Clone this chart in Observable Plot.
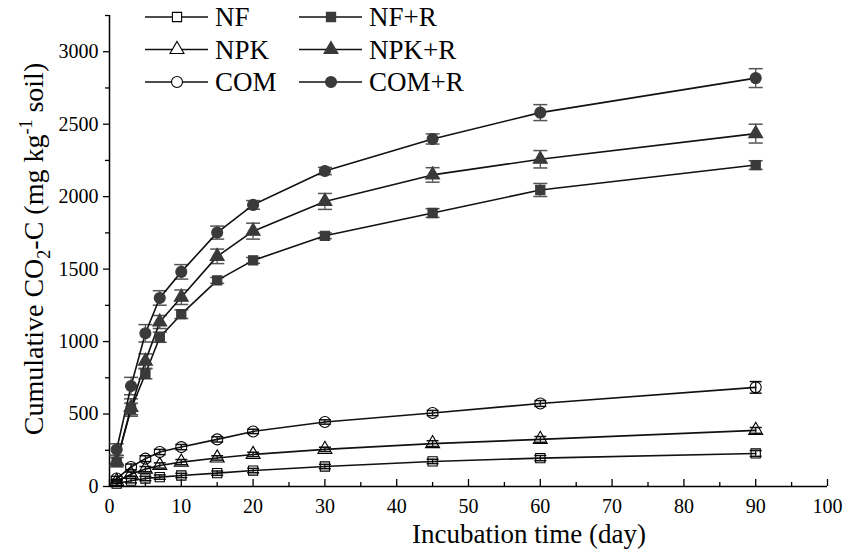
<!DOCTYPE html>
<html>
<head>
<meta charset="utf-8">
<script src="https://cdn.jsdelivr.net/npm/d3@7"></script>
<script src="https://cdn.jsdelivr.net/npm/@observablehq/plot@0.6"></script>
<style>
  body { margin: 0; background: #fff; }
  #chart svg { display: block; }
  #chart svg text { font-family: 'Liberation Serif', 'Times New Roman', serif; }
</style>
</head>
<body>
<div id="chart"></div>
<script>
// ---- data ----
const days = [1, 3, 5, 7, 10, 15, 20, 30, 45, 60, 90];

const nf      = [20, 40, 55, 65, 76, 92, 110, 138, 173, 196, 228];
const nfSd    = [12, 15, 15, 15, 15, 15, 15, 15, 15, 18, 20];
const npk     = [35, 85, 120, 145, 168, 197, 221, 256, 296, 325, 387];
const npkSd   = [12, 15, 18, 18, 18, 15, 15, 15, 20, 20, 20];
const com     = [55, 135, 192, 238, 272, 325, 380, 445, 507, 573, 684];
const comSd   = [15, 20, 20, 18, 18, 18, 15, 15, 18, 20, 40];
const nfR     = [170, 535, 778, 1030, 1189, 1422, 1560, 1730, 1887, 2046, 2218];
const nfRSd   = [30, 40, 35, 35, 30, 20, 20, 20, 30, 45, 30];
const npkR    = [175, 545, 865, 1135, 1306, 1588, 1762, 1967, 2150, 2258, 2435];
const npkRSd  = [40, 60, 50, 45, 50, 50, 55, 55, 50, 60, 65];
const comR    = [255, 693, 1057, 1301, 1481, 1752, 1943, 2177, 2398, 2580, 2818];
const comRSd  = [40, 60, 60, 50, 50, 45, 30, 25, 35, 55, 65];

const seriesNames = ["NF", "NPK", "COM", "NF+R", "NPK+R", "COM+R"];
const seriesValues = [nf, npk, com, nfR, npkR, comR];
const seriesSd = [nfSd, npkSd, comSd, nfRSd, npkRSd, comRSd];
const seriesSymbols = ["square", "triangle", "circle", "square", "triangle", "circle"];
const seriesFilled = [false, false, false, true, true, true];

const xTicks = [0, 10, 20, 30, 40, 50, 60, 70, 80, 90, 100];
const xMinor = [5, 15, 25, 35, 45, 55, 65, 75, 85, 95];
const yTicks = [0, 500, 1000, 1500, 2000, 2500, 3000];
const yMinor = [250, 750, 1250, 1750, 2250, 2750, 3250];

// ---- build ----
const FONT = "'Liberation Serif', 'Times New Roman', serif";
const FILL_DARK = "#3a3a3a";

const series = seriesNames.map((name, k) => ({
  name,
  symbol: seriesSymbols[k],
  filled: seriesFilled[k],
  rows: days.map((d, i) => ({day: d, value: seriesValues[k][i], sd: seriesSd[k][i]}))
}));

const hline = {
  draw(ctx, size) {
    const r = Math.sqrt(size / Math.PI);
    ctx.moveTo(-r, 0);
    ctx.lineTo(r, 0);
  }
};

const marks = [];
// axes
marks.push(Plot.axisX(xTicks, {tickSize: -7, tickFormat: () => "", label: null, strokeWidth: 1.3}));
marks.push(Plot.axisX(xMinor, {tickSize: -4, tickFormat: () => "", label: null, strokeWidth: 1.3}));
marks.push(Plot.axisX(xTicks, {tickSize: 0, tickPadding: 12, label: null, fontSize: 20, fontFamily: FONT, tickFormat: d => String(d)}));
marks.push(Plot.axisY(yTicks, {tickSize: 6, tickPadding: 5, label: null, fontSize: 20, fontFamily: FONT, strokeWidth: 1.3, tickFormat: d => String(d)}));
marks.push(Plot.axisY(yMinor, {tickSize: 4, tickFormat: () => "", label: null, strokeWidth: 1.3}));
marks.push(Plot.ruleX([0], {stroke: "#000", strokeWidth: 1.5}));
marks.push(Plot.ruleY([0], {stroke: "#000", strokeWidth: 1.5}));

for (const s of series) {
  const ebColor = s.filled ? "#555" : "#111";
  const cap = s.filled ? 7 : 6;
  marks.push(Plot.ruleX(s.rows, {x: "day", y1: d => d.value - d.sd, y2: d => d.value + d.sd, stroke: ebColor, strokeWidth: 1.3}));
  marks.push(Plot.dot(s.rows, {x: "day", y: d => d.value + d.sd, symbol: hline, r: cap, fill: "none", stroke: ebColor, strokeWidth: 1.5}));
  marks.push(Plot.dot(s.rows, {x: "day", y: d => d.value - d.sd, symbol: hline, r: cap, fill: "none", stroke: ebColor, strokeWidth: 1.5}));
}
for (const s of series) {
  marks.push(Plot.line(s.rows, {x: "day", y: "value", stroke: "#111", strokeWidth: 1.6}));
}
for (const s of series) {
  marks.push(Plot.dot(s.rows, {
    x: "day", y: "value", symbol: s.symbol, r: s.symbol === "circle" ? 5.5 : 5.2,
    fill: s.filled ? FILL_DARK : "none",
    stroke: s.filled ? FILL_DARK : "#000",
    strokeWidth: 1.1
  }));
}

const chart = Plot.plot({
  width: 858,
  height: 549,
  marginLeft: 109,
  marginRight: 31,
  marginTop: 15,
  marginBottom: 63,
  style: {fontFamily: FONT, fontSize: "20px", color: "#000", background: "#fff"},
  x: {domain: [0, 100], label: null},
  y: {domain: [0, 3250], label: null},
  marks
});
document.getElementById("chart").appendChild(chart);

// ---- titles and legend ----
const svg = d3.select(chart);
svg.attr("font-family", FONT);

svg.append("text")
  .attr("x", 529).attr("y", 543)
  .attr("text-anchor", "middle")
  .attr("font-family", FONT).attr("font-size", 27).attr("fill", "#000")
  .text("Incubation time (day)");

const yl = svg.append("text")
  .attr("transform", "translate(43,249) rotate(-90)")
  .attr("text-anchor", "middle")
  .attr("font-family", FONT).attr("font-size", 28).attr("fill", "#000");
yl.append("tspan").text("Cumulative CO");
yl.append("tspan").attr("font-size", 18).attr("dy", 7).text("2");
yl.append("tspan").attr("dy", -7).text("-C (mg kg");
yl.append("tspan").attr("font-size", 18).attr("dy", -11).text("-1");
yl.append("tspan").attr("dy", 11).text(" soil)");

const symbolTypes = {square: d3.symbolSquare, triangle: d3.symbolTriangle, circle: d3.symbolCircle};
const lg = svg.append("g");
series.forEach((s, k) => {
  const col = s.filled ? 1 : 0;
  const row = k % 3;
  const x0 = col === 0 ? 145 : 299;
  const cy = 17 + row * 32.5;
  const g = lg.append("g");
  g.append("line").attr("x1", x0).attr("x2", x0 + 63).attr("y1", cy).attr("y2", cy)
    .attr("stroke", "#111").attr("stroke-width", 1.6);
  const r = s.symbol === "circle" ? 5.5 : 5.2;
  g.append("path")
    .attr("d", d3.symbol(symbolTypes[s.symbol], Math.PI * r * r)())
    .attr("transform", `translate(${x0 + 32},${cy})`)
    .attr("fill", s.filled ? FILL_DARK : "#fff")
    .attr("stroke", s.filled ? FILL_DARK : "#000").attr("stroke-width", 1.1);
  g.append("text").attr("x", x0 + 70).attr("y", cy + 9)
    .attr("text-anchor", "start")
    .attr("font-family", FONT).attr("font-size", 27).attr("fill", "#000")
    .text(s.name);
});
</script>
</body>
</html>
